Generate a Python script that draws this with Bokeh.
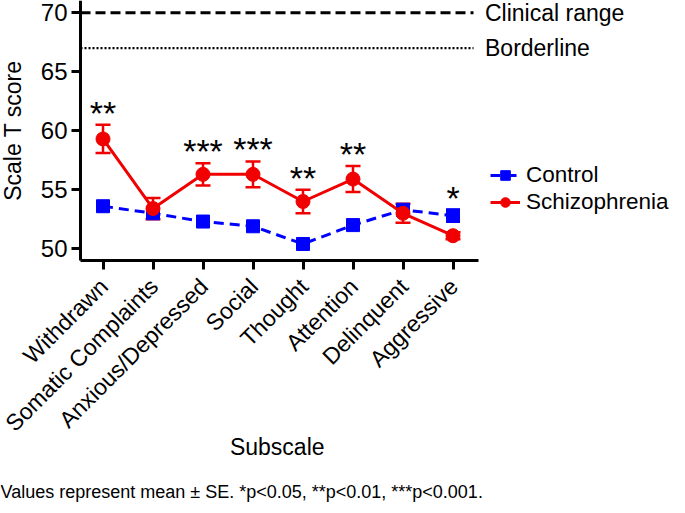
from bokeh.plotting import figure
from bokeh.models import (Range1d, FixedTicker, Label, Legend, LegendItem,
                          Whisker, ColumnDataSource, TeeHead)
from bokeh.core.properties import value
from bokeh.embed import file_html
from bokeh.resources import INLINE
import math

categories = ["Withdrawn", "Somatic Complaints", "Anxious/Depressed", "Social",
              "Thought", "Attention", "Delinquent", "Aggressive"]
control_mean = [53.6, 53.0, 52.3, 51.9, 50.4, 52.0, 53.3, 52.8]
control_se = [0.35, 0.35, 0.25, 0.2, 0.2, 0.2, 0.45, 0.5]
schiz_mean = [59.3, 53.4, 56.3, 56.3, 54.0, 55.9, 53.0, 51.1]
schiz_se = [1.2, 0.9, 0.95, 1.1, 1.0, 1.1, 0.8, 0.3]
stars = ["**", "", "***", "***", "**", "**", "", "*"]
clinical_range = 70
borderline = 67
y_ticks = [50, 55, 60, 65, 70]
x_title = "Subscale"
y_title = "Scale T score"
footnote = "Values represent mean \u00b1 SE. *p<0.05, **p<0.01, ***p<0.001."

FONT = "Liberation Sans"
BLUE = "#0000ff"
RED = "#f00000"

W, H = 669, 505          # canvas == frame
PX_X, PX_Y = 50.0, 11.8  # pixels per data unit
AX_LEFT_PX, AX_BOTTOM_PX = 80, 260
X_AX, Y_AX = -0.45, 49.0           # axis positions (data)
XAX_END = 7.5
x_start = X_AX - AX_LEFT_PX / PX_X
x_end = x_start + W / PX_X
y_end = Y_AX + AX_BOTTOM_PX / PX_Y
y_start = y_end - H / PX_Y

xs = list(range(len(categories)))

p = figure(frame_width=W, frame_height=H, output_backend="svg",
           toolbar_location=None, x_range=Range1d(x_start, x_end),
           y_range=Range1d(y_start, y_end), min_border=0)
p.outline_line_color = None
p.xgrid.visible = False
p.ygrid.visible = False
p.background_fill_color = "white"
p.border_fill_color = "white"

for ax in (p.xaxis[0], p.yaxis[0]):
    ax.axis_line_width = 3
    ax.major_tick_line_width = 3
    ax.major_tick_out = 9
    ax.major_tick_in = 0
    ax.minor_tick_line_color = None
    ax.major_label_text_font = FONT
    ax.major_label_text_color = "black"

p.yaxis.fixed_location = X_AX
p.yaxis.bounds = (Y_AX, y_end)
p.yaxis.ticker = FixedTicker(ticks=y_ticks)
p.yaxis.major_label_text_font_size = "24px"
p.yaxis.major_label_standoff = 4

p.xaxis.fixed_location = Y_AX
p.xaxis.bounds = (X_AX, XAX_END)
p.xaxis.ticker = FixedTicker(ticks=xs)
p.xaxis.major_label_overrides = {i: "" for i in xs}

# category labels (rotated 45 degrees)
p.text(x=xs, y=[Y_AX] * len(xs), text=categories, angle=math.pi / 4,
       text_align="right", text_baseline="alphabetic", x_offset=1, y_offset=22,
       text_font=value(FONT), text_font_size="23px", text_color="black")

# axis titles
p.add_layout(Label(x=X_AX, y=(Y_AX + y_end) / 2, x_offset=-68, text=y_title,
                   angle=math.pi / 2, text_align="center", text_baseline="middle",
                   text_font=FONT, text_font_size="23px", text_color="black"))
p.add_layout(Label(x=(X_AX + XAX_END) / 2, y=Y_AX, x_offset=-2, y_offset=-186,
                   text=x_title, text_align="center", text_baseline="alphabetic",
                   text_font=FONT, text_font_size="23px", text_color="black"))
p.add_layout(Label(x=x_start, y=Y_AX, y_offset=-231, text=footnote,
                   text_align="left", text_baseline="alphabetic",
                   text_font=FONT, text_font_size="18px", text_color="black"))

# threshold lines
line_end = XAX_END - 0.09
p.segment(x0=[X_AX], x1=[line_end], y0=[clinical_range], y1=[clinical_range],
          line_color="black", line_width=3, line_dash="10 5")
p.segment(x0=[X_AX], x1=[line_end], y0=[borderline], y1=[borderline],
          line_color="black", line_width=2.2, line_dash="2 2")
p.add_layout(Label(x=XAX_END, y=clinical_range, text="Clinical range", x_offset=7,
                   text_baseline="middle", text_font=FONT, text_font_size="23px",
                   text_color="black"))
p.add_layout(Label(x=XAX_END, y=borderline, text="Borderline", x_offset=7,
                   text_baseline="middle", text_font=FONT, text_font_size="23px",
                   text_color="black"))

src = ColumnDataSource(dict(
    x=xs,
    c=control_mean, c_lo=[m - s for m, s in zip(control_mean, control_se)],
    c_hi=[m + s for m, s in zip(control_mean, control_se)],
    s=schiz_mean, s_lo=[m - s for m, s in zip(schiz_mean, schiz_se)],
    s_hi=[m + s for m, s in zip(schiz_mean, schiz_se)],
))

# Control
cl = p.line("x", "c", source=src, line_color=BLUE, line_width=3, line_dash="10 6")
p.add_layout(Whisker(source=src, base="x", upper="c_hi", lower="c_lo",
                     line_color=BLUE, line_width=3,
                     upper_head=TeeHead(size=14, line_color=BLUE, line_width=3),
                     lower_head=TeeHead(size=14, line_color=BLUE, line_width=3)))
cs = p.scatter("x", "c", source=src, marker="square", size=13, fill_color=BLUE,
               line_color=BLUE)

# Schizophrenia
sl = p.line("x", "s", source=src, line_color=RED, line_width=3)
p.add_layout(Whisker(source=src, base="x", upper="s_hi", lower="s_lo",
                     line_color=RED, line_width=2.5,
                     upper_head=TeeHead(size=15, line_color=RED, line_width=2.5),
                     lower_head=TeeHead(size=15, line_color=RED, line_width=2.5)))
ss = p.scatter("x", "s", source=src, marker="circle", size=14, fill_color=RED,
               line_color=RED)

# significance stars
star_y = [max(a, b) for a, b in zip(src.data["c_hi"], src.data["s_hi"])]
p.text(x=xs, y=star_y, text=stars, text_align="center", text_baseline="middle",
       y_offset=-12, text_font=value(FONT), text_font_size="34px",
       text_color="black")

legend = Legend(items=[LegendItem(label="Control", renderers=[cl, cs]),
                       LegendItem(label="Schizophrenia", renderers=[sl, ss])],
                location=(490, 290), label_text_font=FONT,
                label_text_font_size="22.5px", label_text_color="black",
                glyph_width=30, glyph_height=24,
                label_standoff=6, spacing=1, padding=0, margin=0,
                border_line_color=None, background_fill_alpha=0)
p.add_layout(legend, "center")

open("out.html", "w").write(file_html(p, INLINE))
